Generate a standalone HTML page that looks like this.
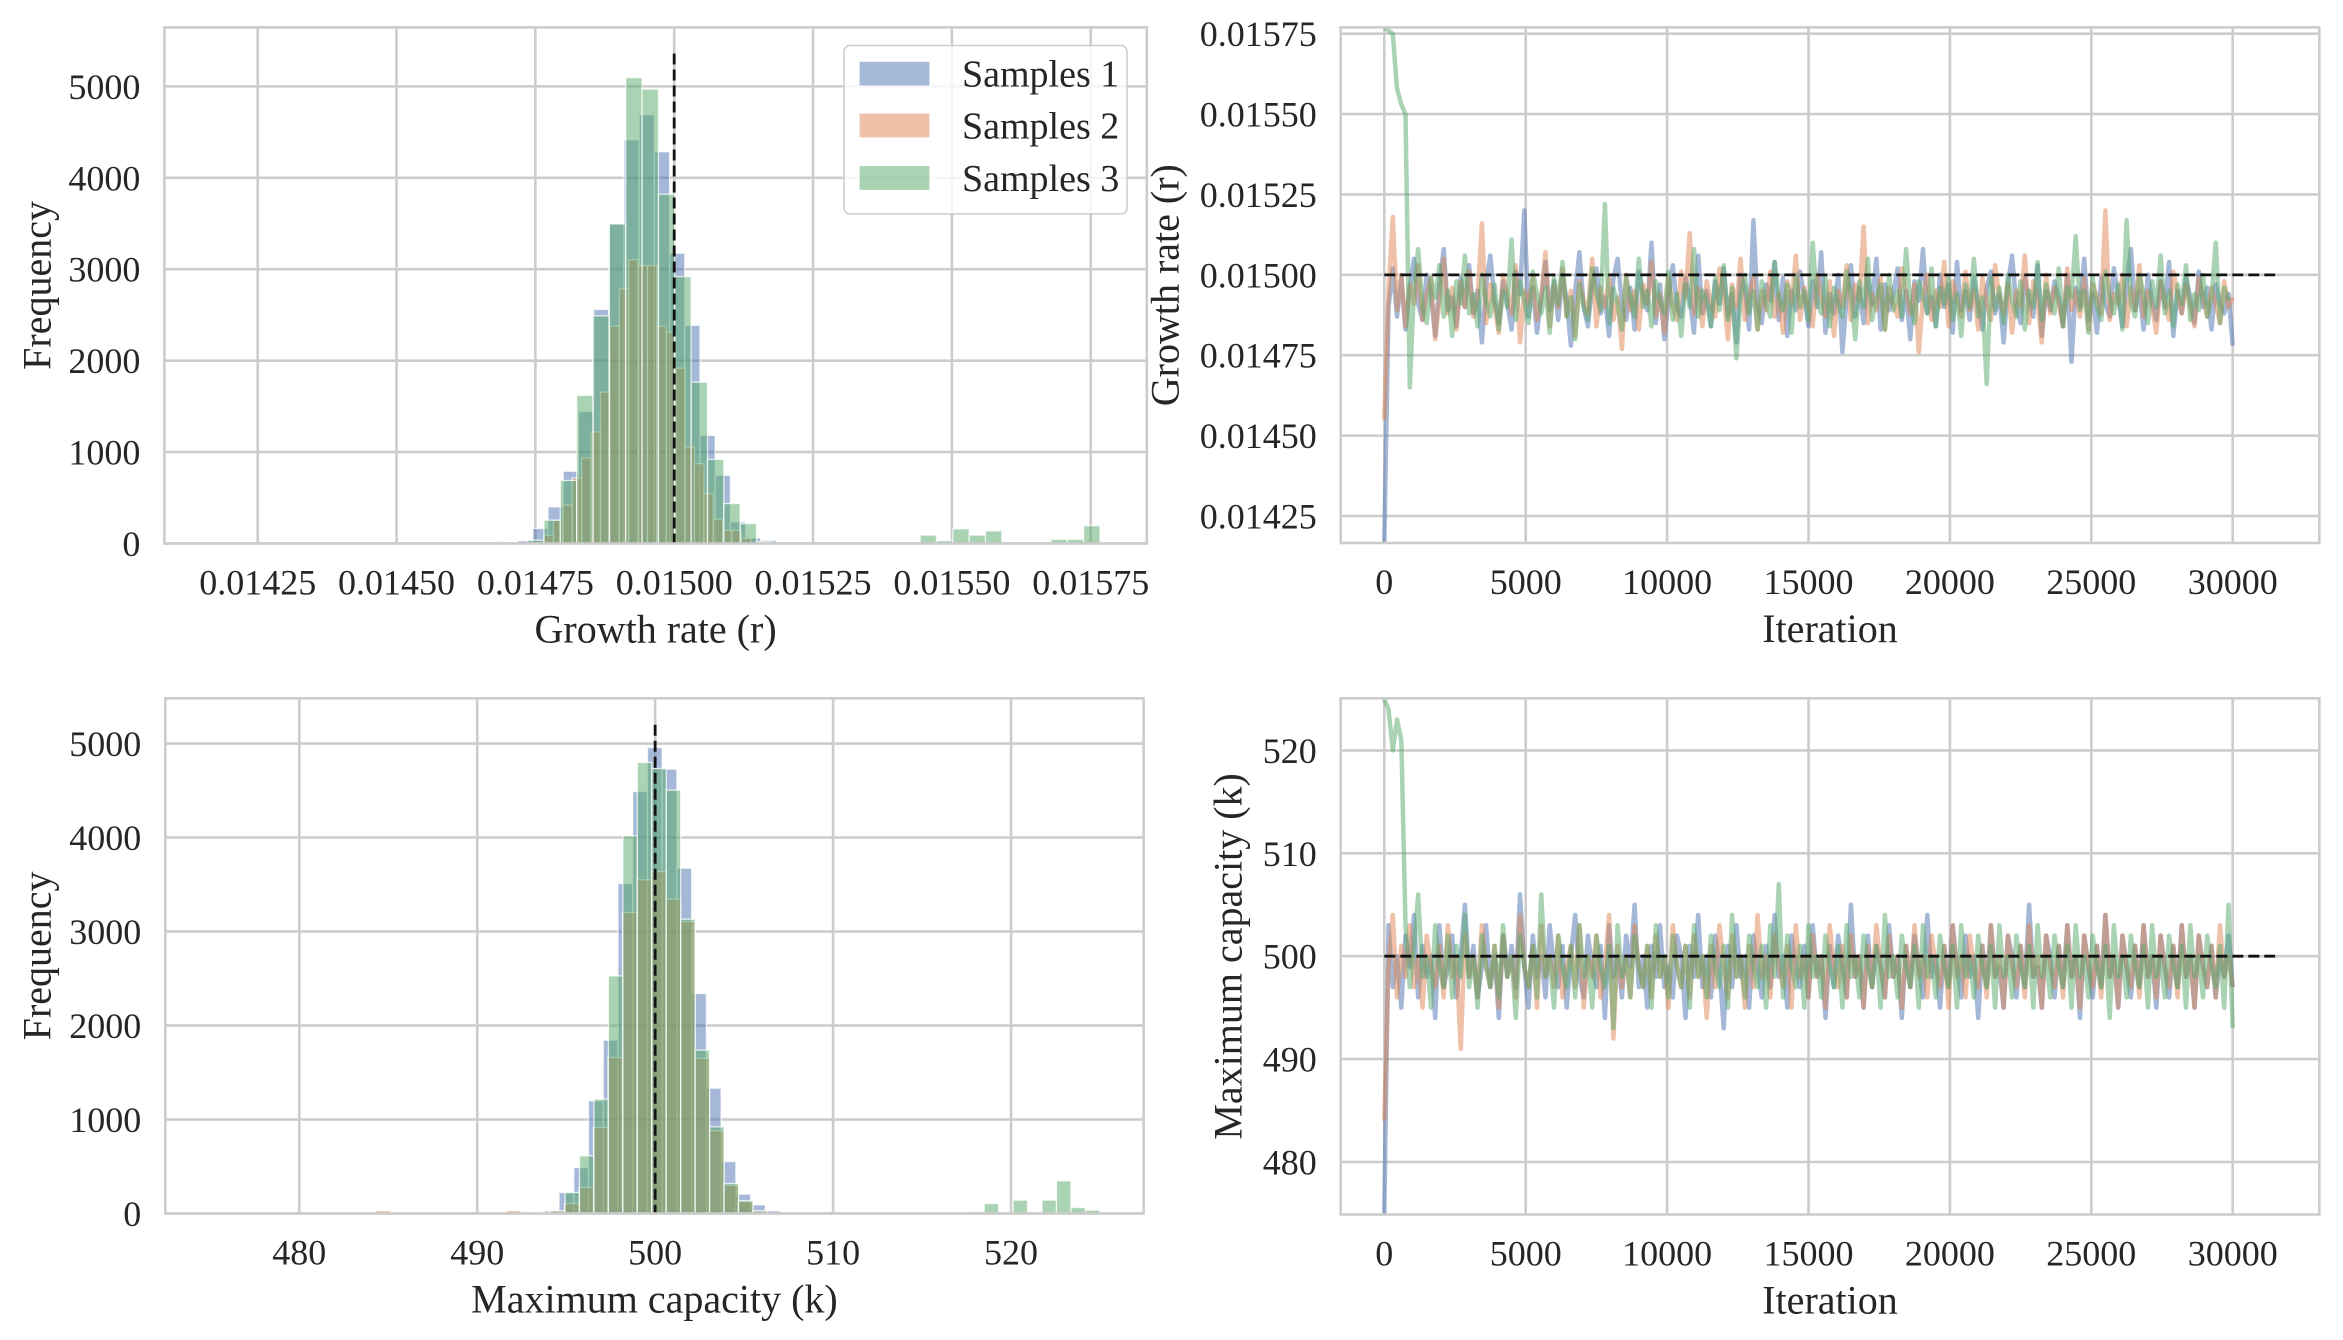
<!DOCTYPE html>
<html><head><meta charset="utf-8"><title>MCMC chains</title>
<style>html,body{margin:0;padding:0;background:#fff}svg{display:block}text{font-family:"Liberation Serif",serif;fill:#262626}</style>
</head><body>
<svg id="fig" xmlns="http://www.w3.org/2000/svg" width="2343" height="1340" viewBox="0 0 2343 1340">
<rect width="2343" height="1340" fill="#fff"/>
</svg>
<script>
// ---------- data ----------
const rTicks = ["0.01425","0.01450","0.01475","0.01500","0.01525","0.01550","0.01575"];
const rTickValues = [0.01425,0.0145,0.01475,0.015,0.01525,0.0155,0.01575];
const freqTicks = [0,1000,2000,3000,4000,5000];
const kTicks = [480,490,500,510,520];
const iterTicks = [0,5000,10000,15000,20000,25000,30000];
const seriesNames = ["Samples 1","Samples 2","Samples 3"];
const colors = ["#4c72b0","#dd8452","#55a868"];
const trueR = 0.015;
const trueK = 500;
const iterStep = 150;
const refLineEnd = 31500;

// histogram of r: bin start, bin width, counts
const rHistStart = [0.014718, 0.014681, 0.014736];
const rHistWidth = [2.737e-5, 1.693e-5, 2.945e-5];
const rCounts1 = [30,165,400,790,1445,2560,3500,4415,4690,4285,3175,2385,1183,746,237,60,36];
const rCounts2 = [20,0,0,0,0,90,255,420,717,935,1220,1656,2377,2785,3105,3040,3040,2377,2312,1918,1056,874,546,266,146,146,55];
const rCounts3 = [36,255,690,1620,2490,3495,5095,4970,3820,2920,1765,920,437,218,20,0,0,0,0,0,0,0,0,0,92,32,161,92,138,0,0,0,46,46,194];

// histogram of k
const kHistStart = [493.77, 484.31, 493.31];
const kHistWidth = [0.828, 0.815, 0.8123];
const kCounts1 = [30,223,489,1199,1844,3511,4489,4957,4727,3674,2340,1333,553,206,92,28];
const kCounts2 = [30,0,0,0,0,0,0,0,0,30,0,0,28,106,277,915,1660,3202,3550,3638,3344,3106,1650,880,300,130,28];
const kCounts3 = [10,28,223,613,1216,2528,4018,4798,4734,4504,3131,1738,922,319,135,28,0,0,0,0,0,0,0,0,0,0,0,0,0,0,21,106,0,142,0,142,348,64,35];

// trace of r (units of 1e-5), one sample every iterStep iterations
const rTrace1 = [1416,1490,1502,1487,1499,1483,1496,1505,1491,1486,1500,1494,1481,1497,1508,1489,1493,1484,1499,1490,1503,
1488,1495,1479,1497,1506,1492,1485,1498,1491,1483,1501,1494,1520,1487,1496,1482,1493,1504,1489,1498,
1486,1500,1492,1478,1495,1507,1490,1484,1497,1502,1488,1493,1481,1499,1505,1491,1486,1496,1483,1501,
1494,1489,1510,1485,1497,1480,1492,1503,1490,1487,1499,1493,1482,1506,1488,1495,1484,1498,1491,1502,
1487,1494,1479,1500,1496,1483,1517,1490,1485,1497,1492,1504,1486,1499,1481,1495,1489,1501,1493,1484,
1498,1490,1507,1482,1494,1488,1500,1476,1493,1503,1487,1496,1485,1499,1491,1505,1483,1497,1489,1494,
1502,1486,1495,1480,1498,1492,1508,1488,1493,1484,1500,1490,1497,1482,1504,1489,1495,1486,1499,1491,
1483,1496,1501,1488,1494,1479,1497,1506,1490,1485,1499,1492,1487,1503,1481,1495,1489,1498,1493,1484,
1500,1473,1496,1490,1505,1486,1494,1482,1499,1491,1487,1502,1493,1484,1497,1508,1489,1495,1483,1500,
1492,1486,1498,1490,1504,1481,1495,1488,1499,1493,1485,1501,1490,1496,1483,1497,1491,1488,1494,1478];
const rTrace2 = [1455,1495,1518,1489,1500,1484,1497,1491,1503,1486,1494,1499,1480,1492,1505,1488,1496,1483,1498,1490,1501,
1487,1493,1516,1485,1497,1490,1482,1500,1494,1488,1503,1479,1495,1491,1499,1486,1493,1507,1484,1497,
1490,1502,1487,1495,1481,1498,1492,1488,1505,1484,1496,1490,1499,1486,1493,1477,1500,1489,1495,1483,
1497,1491,1504,1487,1494,1482,1499,1490,1486,1501,1493,1513,1488,1496,1484,1498,1491,1487,1502,1494,
1480,1497,1490,1505,1486,1493,1499,1483,1495,1489,1501,1487,1494,1482,1498,1491,1506,1486,1496,1490,
1484,1500,1493,1487,1498,1481,1495,1490,1503,1486,1497,1492,1515,1485,1494,1489,1499,1483,1496,1491,
1487,1502,1494,1488,1497,1476,1493,1500,1486,1495,1490,1504,1484,1498,1492,1487,1501,1489,1495,1483,
1499,1491,1486,1503,1493,1488,1497,1482,1495,1490,1506,1485,1498,1492,1479,1500,1488,1496,1491,1484,
1502,1489,1495,1487,1499,1483,1497,1493,1488,1520,1486,1494,1491,1500,1484,1496,1489,1503,1487,1495,
1490,1482,1498,1492,1486,1501,1494,1488,1497,1490,1484,1499,1493,1487,1496,1491,1485,1498,1490,1493];
const rTrace3 = [1577,1576,1575,1558,1553,1550,1465,
1496,1508,1490,1485,1499,1493,1503,1487,1495,1481,1498,1491,1506,1488,1494,1484,1500,1492,1487,1497,
1483,1495,1490,1511,1486,1498,1492,1485,1501,1494,1488,1496,1482,1499,1491,1504,1487,1493,1480,1497,
1490,1486,1502,1494,1489,1522,1485,1496,1491,1483,1499,1493,1487,1505,1490,1495,1484,1498,1492,1488,
1501,1486,1494,1481,1497,1490,1508,1487,1495,1492,1484,1499,1489,1503,1486,1496,1474,1493,1500,1488,
1495,1483,1498,1491,1487,1504,1493,1489,1497,1482,1500,1490,1495,1486,1510,1492,1488,1499,1484,1496,
1491,1487,1501,1494,1480,1498,1490,1505,1486,1493,1497,1483,1500,1489,1495,1487,1508,1491,1485,1498,
1493,1488,1502,1484,1496,1491,1499,1486,1494,1481,1497,1490,1505,1487,1493,1466,1499,1489,1496,1485,
1500,1492,1487,1498,1483,1495,1490,1504,1486,1497,1491,1488,1502,1484,1496,1493,1512,1489,1495,1482,
1499,1490,1486,1501,1493,1488,1497,1483,1517,1491,1487,1500,1494,1485,1498,1490,1506,1488,1495,1484,
1497,1491,1503,1486,1494,1489,1500,1487,1493,1510,1485,1496,1492];

// trace of k
const kTrace1 = [475,503,497,500,495,502,499,504,496,501,498,500,494,503,497,499,502,496,500,505,498,
501,496,499,503,497,500,494,502,498,501,497,506,499,495,502,498,500,496,503,499,
497,501,495,500,504,498,496,502,499,497,501,494,503,498,500,496,502,499,505,497,
500,495,501,498,503,497,499,496,502,500,494,501,498,504,497,500,496,502,499,493,
501,497,503,498,500,495,502,499,496,501,497,504,498,500,495,502,499,497,501,496,
503,498,500,494,501,497,502,499,496,505,498,500,495,502,497,501,499,496,503,498,
500,494,501,497,502,499,496,504,498,500,495,501,497,503,499,496,502,498,500,494,
501,497,503,498,499,495,502,500,496,501,497,505,498,499,495,502,500,496,501,497,
503,498,500,494,502,499,496,501,497,504,498,500,495,502,499,496,501,497,503,498,
500,495,502,499,496,501,497,503,498,500,495,502,499,497,501,496,500,498,502,497];
const kTrace2 = [484,499,504,496,501,498,503,497,500,495,502,499,497,501,496,503,498,500,491,502,498,
500,496,503,499,497,501,495,502,498,500,496,504,499,497,501,495,503,498,500,497,
502,496,499,501,497,503,495,500,498,502,496,499,504,492,501,497,500,496,503,499,
497,501,496,502,498,500,495,503,499,497,501,496,502,498,500,494,501,497,503,499,
496,502,498,500,495,501,497,504,498,500,496,502,499,497,501,495,503,498,500,496,
502,498,500,495,503,499,497,501,496,502,498,500,495,501,497,503,499,496,502,498,
500,495,501,497,503,498,500,496,502,499,497,501,495,503,498,500,496,502,499,497,
501,496,503,498,500,495,502,499,497,501,496,503,498,500,495,502,499,497,501,496,
503,498,500,495,502,499,497,501,496,504,498,500,495,502,499,497,501,496,503,498,
500,496,502,499,497,501,496,503,498,500,495,502,499,497,501,496,503,498,500,497];
const kTrace3 = [525,524,520,523,521,503,
497,501,506,498,500,495,503,499,497,502,496,501,498,504,497,500,495,502,499,
497,501,496,503,498,500,494,502,499,497,501,496,506,498,500,495,502,499,497,501,
496,503,498,500,495,502,499,497,501,493,503,498,500,496,502,499,497,501,495,503,
498,500,496,502,499,497,501,495,503,498,500,496,502,499,497,501,495,504,498,500,
496,502,499,497,501,495,503,498,507,496,502,499,497,501,495,503,498,500,496,502,
499,497,501,495,503,498,500,496,502,499,497,501,495,504,498,500,496,502,499,497,
501,495,503,498,500,496,502,499,497,501,495,503,498,500,496,502,499,497,501,495,
503,498,500,496,502,499,497,501,495,503,498,500,496,502,499,497,501,495,503,498,
500,496,502,499,497,501,494,503,498,500,496,502,499,497,501,495,503,498,500,496,
502,499,497,501,495,503,498,500,496,502,499,497,501,495,505,493];

// ---------- drawing ----------
const NS = "http://www.w3.org/2000/svg";
const svg = document.getElementById("fig");
function mk(tag, attrs, parent){
  const e = document.createElementNS(NS, tag);
  for (const k in attrs) e.setAttribute(k, attrs[k]);
  (parent || svg).appendChild(e);
  return e;
}
function lin(d0,d1,r0,r1){ return v => r0 + (v-d0)/(d1-d0)*(r1-r0); }

const GRID = "#cccccc";
const TICK_FS = 36, LABEL_FS = 40;

function makeAxes(name, box, xs, ys, xTickVals, xTickLabels, yTickVals, yTickLabels, xLabel, yLabel, yLabelX){
  const g = mk("g", {});
  
  
  const grid = mk("g", {}, g);
  
  
  xTickVals.forEach((v,i) => {
    const x = xs(v);
    const l = mk("line", {x1:x, x2:x, y1:box.t, y2:box.b, stroke:GRID, "stroke-width":2.6}, grid);
    
    
    const t = mk("text", {x:x, y:box.b+51, "text-anchor":"middle", "font-size":TICK_FS}, g);
    
    
    t.textContent = xTickLabels[i];
  });
  yTickVals.forEach((v,i) => {
    const y = ys(v);
    const l = mk("line", {x1:box.l, x2:box.r, y1:y, y2:y, stroke:GRID, "stroke-width":2.6}, grid);
    
    
    const t = mk("text", {x:box.l-24, y:y+12.5, "text-anchor":"end", "font-size":TICK_FS}, g);
    
    
    t.textContent = yTickLabels[i];
  });
  const xl = mk("text", {x:(box.l+box.r)/2, y:box.b+99, "text-anchor":"middle", "font-size":LABEL_FS}, g);
  
  
  xl.textContent = xLabel;
  const cy = (box.t+box.b)/2;
  const yl = mk("text", {x:0, y:0, transform:`translate(${yLabelX},${cy}) rotate(-90)`, "text-anchor":"middle", "dominant-baseline":"central", "font-size":LABEL_FS}, g);
  
  
  yl.textContent = yLabel;
  const clipId = name + "-clip";
  const cp = mk("clipPath", {id:clipId}, g);
  mk("rect", {x:box.l, y:box.t, width:box.r-box.l, height:box.b-box.t}, cp);
  const plot = mk("g", {"clip-path":`url(#${clipId})`}, g);
  
  
  return {g, plot, box};
}
function frame(ax){
  const b = ax.box;
  const f = mk("rect", {x:b.l, y:b.t, width:b.r-b.l, height:b.b-b.t, fill:"none", stroke:GRID, "stroke-width":2.6}, ax.g);
  
  
}
function drawHist(ax, xs, ys, start, width, counts, color, name){
  const g = mk("g", {}, ax.plot);
  
  
  counts.forEach((c,i) => {
    if (c <= 0) return;
    const x0 = xs(start + i*width), x1 = xs(start + (i+1)*width);
    const y = ys(c), y0 = ys(0);
    const r = mk("rect", {x:x0, y:y, width:x1-x0, height:y0-y, fill:color, "fill-opacity":0.5, stroke:"#ffffff", "stroke-opacity":0.75, "stroke-width":1.3}, g);
    
    
  });
}
function drawTrace(ax, xs, ys, vals, scale, color, name){
  const pts = vals.map((v,i) => xs(i*iterStep).toFixed(1) + "," + ys(v*scale).toFixed(1)).join(" ");
  const p = mk("polyline", {points:pts, fill:"none", stroke:color, "stroke-opacity":0.5, "stroke-width":4.5, "stroke-linejoin":"round"}, ax.plot);
  
  
}
function dashed(ax, x1,y1,x2,y2,name){
  const l = mk("line", {x1,y1,x2,y2, stroke:"#111", "stroke-width":2.8, "stroke-dasharray":"11 5"}, ax.plot);
  
  
}

// Top-left: r histogram
const b1 = {l:164.4, r:1146.8, t:27.4, b:543.5};
const x1s = lin(0.014082, 0.015851, b1.l, b1.r);
const y1s = lin(0, 5645, b1.b, b1.t);
const ax1 = makeAxes("r-histogram", b1, x1s, y1s, rTickValues, rTicks, freqTicks, freqTicks.map(String), "Growth rate (r)", "Frequency", 37);
drawHist(ax1, x1s, y1s, rHistStart[0], rHistWidth[0], rCounts1, colors[0], "r-hist-samples-1");
drawHist(ax1, x1s, y1s, rHistStart[1], rHistWidth[1], rCounts2, colors[1], "r-hist-samples-2");
drawHist(ax1, x1s, y1s, rHistStart[2], rHistWidth[2], rCounts3, colors[2], "r-hist-samples-3");
dashed(ax1, x1s(trueR), y1s(5360), x1s(trueR), y1s(0), "true-r-line");
frame(ax1);

// legend
(function(){
  const lg = mk("g", {});
  
  
  mk("rect", {x:844, y:45.5, width:283, height:168.5, rx:6, fill:"#fff", "fill-opacity":0.8, stroke:"#cccccc", "stroke-width":1.5}, lg);
  const ys = [73.7, 125.5, 178];
  seriesNames.forEach((n,i) => {
    const e = mk("g", {}, lg);
    
    
    mk("rect", {x:859, y:ys[i]-12.5, width:71, height:25, fill:colors[i], "fill-opacity":0.5, stroke:"#fff", "stroke-width":1.2}, e);
    const t = mk("text", {x:962, y:ys[i]+13, "font-size":38}, e);
    t.textContent = n;
  });
})();

// Top-right: r trace
const b2 = {l:1340.7, r:2319.3, t:27.4, b:543};
const x2s = lin(0, 30000, 1384.3, 2232.7);
const y2s = lin(0.01425, 0.01575, 516, 33.7);
const ax2 = makeAxes("r-trace", b2, x2s, y2s, iterTicks, iterTicks.map(String), rTickValues, rTicks, "Iteration", "Growth rate (r)", 1165);
drawTrace(ax2, x2s, y2s, rTrace1, 1e-5, colors[0], "r-trace-samples-1");
drawTrace(ax2, x2s, y2s, rTrace2, 1e-5, colors[1], "r-trace-samples-2");
drawTrace(ax2, x2s, y2s, rTrace3, 1e-5, colors[2], "r-trace-samples-3");
dashed(ax2, x2s(0), y2s(trueR), x2s(refLineEnd), y2s(trueR), "true-r-line");
frame(ax2);

// Bottom-left: k histogram
const b3 = {l:165.3, r:1143.6, t:698.3, b:1213.5};
const x3s = lin(472.47, 527.45, b3.l, b3.r);
const y3s = lin(0, 5481, b3.b, b3.t);
const ax3 = makeAxes("k-histogram", b3, x3s, y3s, kTicks, kTicks.map(String), freqTicks, freqTicks.map(String), "Maximum capacity (k)", "Frequency", 37);
drawHist(ax3, x3s, y3s, kHistStart[0], kHistWidth[0], kCounts1, colors[0], "k-hist-samples-1");
drawHist(ax3, x3s, y3s, kHistStart[1], kHistWidth[1], kCounts2, colors[1], "k-hist-samples-2");
drawHist(ax3, x3s, y3s, kHistStart[2], kHistWidth[2], kCounts3, colors[2], "k-hist-samples-3");
dashed(ax3, x3s(trueK), y3s(5200), x3s(trueK), y3s(0), "true-k-line");
frame(ax3);

// Bottom-right: k trace
const b4 = {l:1340.7, r:2319.3, t:698.3, b:1214.5};
const x4s = lin(0, 30000, 1384.3, 2232.7);
const y4s = lin(480, 520, 1162, 750.4);
const ax4 = makeAxes("k-trace", b4, x4s, y4s, iterTicks, iterTicks.map(String), kTicks, kTicks.map(String), "Iteration", "Maximum capacity (k)", 1228);
drawTrace(ax4, x4s, y4s, kTrace1, 1, colors[0], "k-trace-samples-1");
drawTrace(ax4, x4s, y4s, kTrace2, 1, colors[1], "k-trace-samples-2");
drawTrace(ax4, x4s, y4s, kTrace3, 1, colors[2], "k-trace-samples-3");
dashed(ax4, x4s(0), y4s(trueK), x4s(refLineEnd), y4s(trueK), "true-k-line");
frame(ax4);
</script>
</body></html>
